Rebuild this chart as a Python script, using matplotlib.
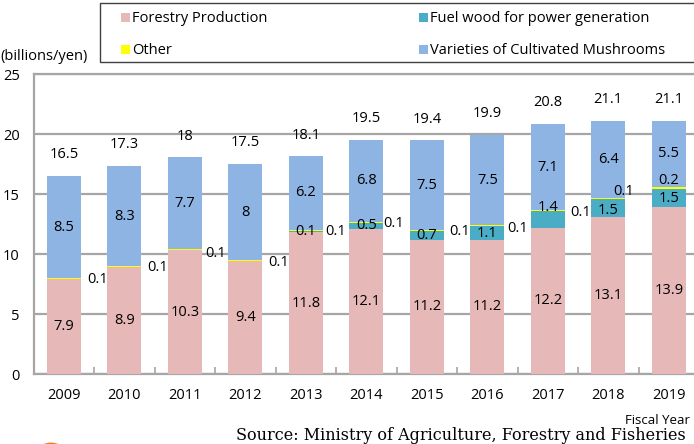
import matplotlib
matplotlib.use("Agg")
import matplotlib.pyplot as plt
from matplotlib.patches import Rectangle, Circle
import numpy as np

plt.rcParams['font.family'] = ['Open Sans', 'DejaVu Sans']

# data
years = ["2009", "2010", "2011", "2012", "2013", "2014", "2015", "2016", "2017", "2018", "2019"]
forestry = [7.9, 8.9, 10.3, 9.4, 11.8, 12.1, 11.2, 11.2, 12.2, 13.1, 13.9]
fuel_wood = [0, 0, 0, 0, 0.1, 0.5, 0.7, 1.1, 1.4, 1.5, 1.5]
other = [0.1, 0.1, 0.1, 0.1, 0.1, 0.1, 0.1, 0.1, 0.1, 0.1, 0.2]
mushrooms = [8.5, 8.3, 7.7, 8, 6.2, 6.8, 7.5, 7.5, 7.1, 6.4, 5.5]
totals = [16.5, 17.3, 18, 17.5, 18.1, 19.5, 19.4, 19.9, 20.8, 21.1, 21.1]

names = ["Forestry Production", "Fuel wood for power generation", "Other",
         "Varieties of Cultivated Mushrooms"]
colors = ["#E6B8B7", "#4BACC6", "#FFFF00", "#8EB4E3"]

# label placement tweaks for the thin "Other" slices (x offset in bars, y offset in units)
other_dx = [0.55, 0.55, 0.5, 0.55, 0.5, 0.45, 0.55, 0.5, 0.55, 0.25, 0.0]
other_dy = [-0.1, -0.1, -0.3, -0.2, -0.05, -0.1, -0.1, -0.2, -0.2, 0.6, 0.65]
fuel_dy = [0, 0, 0, 0, 0, 0, 0, 0, 0.95, -0.25, 0]

W, H = 694, 444
fig = plt.figure(figsize=(W / 100, H / 100), dpi=100)

ax = fig.add_axes([33.7 / W, (H - 374) / H, (699 - 33.7) / W, 300 / H])
x = np.arange(len(years))
bw = 0.56

bottom = np.zeros(len(years))
for vals, c in zip([forestry, fuel_wood, other, mushrooms], colors):
    ax.bar(x, vals, bw, bottom=bottom, color=c, linewidth=0, zorder=3)
    bottom += np.array(vals)

fs = 10.5
for i in range(len(years)):
    ax.text(x[i], forestry[i] / 2, f"{forestry[i]:g}", ha="center", va="center", fontsize=fs, zorder=5)
    if fuel_wood[i] > 0:
        ax.text(x[i], forestry[i] + fuel_wood[i] / 2 + fuel_dy[i], f"{fuel_wood[i]:g}",
                ha="center", va="center", fontsize=fs, zorder=5)
    base = forestry[i] + fuel_wood[i]
    ax.text(x[i] + other_dx[i], base + other[i] / 2 + other_dy[i], f"{other[i]:g}",
            ha="center", va="center", fontsize=fs, zorder=5)
    base += other[i]
    ax.text(x[i], base + mushrooms[i] / 2, f"{mushrooms[i]:g}", ha="center", va="center",
            fontsize=fs, zorder=5)
    ax.text(x[i], totals[i] + 1.8, f"{totals[i]:g}", ha="center", va="center", fontsize=fs, zorder=5)

ax.set_xlim(-0.5, len(years) - 0.5)
ax.set_ylim(0, 25)
ax.set_yticks([0, 5, 10, 15, 20, 25])
ax.yaxis.grid(True, color="#A6A6A6", linewidth=1.6, zorder=0)
ax.set_xticks(x)
ax.set_xticklabels(years)
ax.set_xticks(np.arange(len(years)) + 0.5, minor=True)
ax.tick_params(axis="x", which="major", length=0, pad=10, labelsize=fs)
ax.tick_params(axis="x", which="minor", direction="in", length=5, color="#A6A6A6", width=1.2)
ax.tick_params(axis="y", length=0, pad=10, labelsize=fs)
for s in ["left", "bottom", "top"]:
    ax.spines[s].set_color("#A6A6A6")
    ax.spines[s].set_linewidth(1.6)
ax.spines["right"].set_visible(False)

# legend box drawn by hand so it runs off the right edge like the original
fig.patches.append(Rectangle((100 / W, 1 - 62 / H), 620 / W, 59 / H, transform=fig.transFigure,
                             facecolor="white", edgecolor="#404040", linewidth=1.0))
leg_pos = [(121, 18), (419, 18), (121, 50), (419, 50)]
for (px, py), n, c in zip(leg_pos, names, colors):
    fig.patches.append(Rectangle((px / W, 1 - (py + 4.5) / H), 9 / W, 9 / H,
                                 transform=fig.transFigure, facecolor=c, edgecolor="none"))
    fig.text((px + 11) / W, 1 - py / H, n, ha="left", va="center", fontsize=10.5)

fig.text(0 / W, 1 - 57 / H, "(billions/yen)", ha="left", va="center", fontsize=10.5)
fig.text(690 / W, 1 - 420 / H, "Fiscal Year", ha="right", va="center", fontsize=9.5)
fig.text(686 / W, 1 - 435 / H, "Source: Ministry of Agriculture, Forestry and Fisheries",
         ha="right", va="center", fontsize=11.5, family="DejaVu Serif")
fig.patches.append(Circle((51 / W, 1 - 452 / H), 12 / W, transform=fig.transFigure,
                          facecolor="none", edgecolor="#F07D1E", linewidth=2.5))

fig.savefig("out.png", dpi=100)
